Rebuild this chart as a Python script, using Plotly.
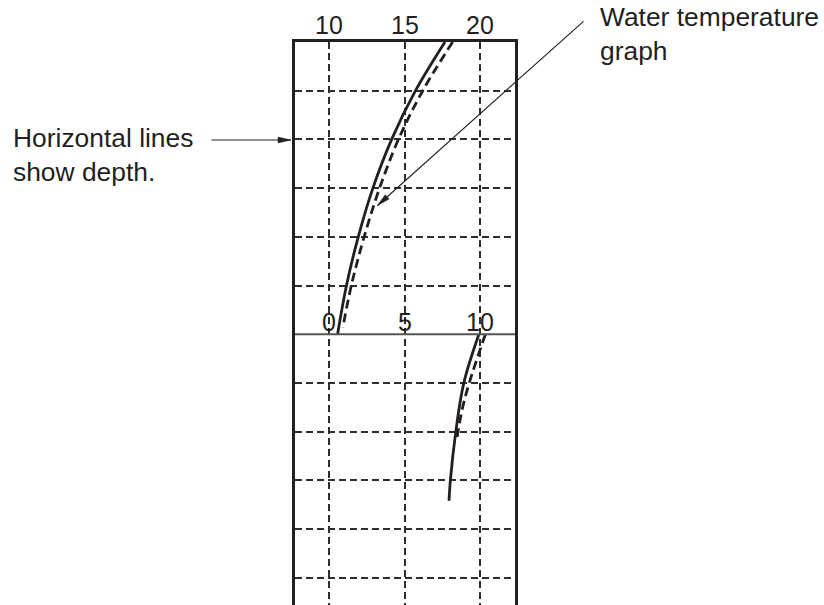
import math
import plotly.graph_objects as go

# ---- data ----
top_ticks = [10, 15, 20]            # upper graph temperature scale
mid_ticks = [0, 5, 10]              # lower graph temperature scale
depth_lines = [1, 2, 3, 4, 5, 7, 8, 9, 10, 11]
divider_depth = 6

depth_solid_top = [0, 1, 2, 3, 4, 5, 6]
temp_solid_top = [17.66, 15.71, 14.13, 12.89, 11.92, 11.14, 10.55]
depth_dash_top = [0, 1, 2, 3, 4, 5, 5.86]
temp_dash_top = [18.17, 16.19, 14.58, 13.33, 12.31, 11.46, 10.90]

depth_solid_bot = [6, 7, 8, 9, 9.42]
temp_solid_bot = [9.91, 8.91, 8.38, 8.02, 7.93]
depth_dash_bot = [6, 7, 7.56, 8.2]
temp_dash_bot = [10.34, 9.27, 8.79, 8.42]

W, H = 824, 605
FONT = "Liberation Sans, Arial, Helvetica, sans-serif"
INK = "#231f20"

x_range = [7.73, 22.30]
y_range = [11.56, 0]

fig = go.Figure()
line_solid = dict(color=INK, width=2.8, shape="spline")
line_dash = dict(color=INK, width=2.8, shape="spline", dash="9px,5px")
fig.add_trace(go.Scatter(x=temp_solid_top, y=depth_solid_top, mode="lines", line=line_solid, xaxis="x", yaxis="y"))
fig.add_trace(go.Scatter(x=temp_dash_top, y=depth_dash_top, mode="lines", line=line_dash, xaxis="x", yaxis="y"))
fig.add_trace(go.Scatter(x=temp_solid_bot, y=depth_solid_bot, mode="lines", line=line_solid, xaxis="x2", yaxis="y"))
fig.add_trace(go.Scatter(x=temp_dash_bot, y=depth_dash_bot, mode="lines", line=line_dash, xaxis="x2", yaxis="y"))

dom_x = [295 / W, 515 / W]
dom_y = [0, 1 - 42 / H]

fig.update_layout(
    width=W, height=H, margin=dict(l=0, r=0, t=0, b=0),
    paper_bgcolor="white", plot_bgcolor="white", showlegend=False,
    xaxis=dict(domain=dom_x, range=x_range, tickvals=top_ticks, showticklabels=False,
               showgrid=True, gridcolor="#2e2e2e", gridwidth=1.5, griddash="7px,4px",
               zeroline=False, showline=True, side="top", linecolor=INK, linewidth=3,
               ticks="", fixedrange=True),
    xaxis2=dict(domain=dom_x, range=[x_range[0] - 10, x_range[1] - 10], overlaying="x",
                showticklabels=False, showgrid=False, zeroline=False, showline=False, visible=False),
    yaxis=dict(domain=dom_y, range=y_range, tickvals=depth_lines, showticklabels=False,
               showgrid=True, gridcolor="#2e2e2e", gridwidth=1.5, griddash="7px,4px",
               zeroline=False, showline=True, mirror=True, linecolor=INK, linewidth=3,
               ticks="", fixedrange=True),
)

# divider between the two graphs
fig.add_shape(type="line", xref="paper", x0=dom_x[0], x1=dom_x[1], yref="y",
              y0=divider_depth, y1=divider_depth, line=dict(color="#555555", width=2))

annotations = []
for t in top_ticks:
    annotations.append(dict(x=t, xref="x", y=1 - 25 / H, yref="paper", text=str(t), showarrow=False,
                            font=dict(family=FONT, size=25, color=INK), xanchor="center", yanchor="middle"))
for t in mid_ticks:
    annotations.append(dict(x=t, xref="x2", y=5.74, yref="y", text=str(t), showarrow=False,
                            font=dict(family=FONT, size=25, color=INK), xanchor="center", yanchor="middle"))

annotations.append(dict(x=11 / W, xref="paper", y=1 - 155 / H, yref="paper",
                        text="Horizontal lines<br>show depth.", showarrow=False, align="left",
                        font=dict(family=FONT, size=26.4, color=INK), xanchor="left", yanchor="middle"))
annotations.append(dict(x=598 / W, xref="paper", y=1 - 34 / H, yref="paper",
                        text="Water temperature<br>graph", showarrow=False, align="left",
                        font=dict(family=FONT, size=26.4, color=INK), xanchor="left", yanchor="middle"))


# pointer arrows (pixel tip and tail), line via annotation, narrow filled head via path shape
def pointer(tip, tail, head_len=13, half_w=2.9):
    tx, ty = tip
    sx, sy = tail
    annotations.append(dict(x=tx / W, xref="paper", y=1 - ty / H, yref="paper", text="",
                            showarrow=True, ax=sx - tx, ay=sy - ty, arrowhead=0,
                            arrowwidth=1.1, arrowcolor=INK))
    dx, dy = tx - sx, ty - sy
    n = math.hypot(dx, dy)
    ux, uy = dx / n, dy / n
    bx, by = tx - ux * head_len, ty - uy * head_len
    px, py = -uy * half_w, ux * half_w
    pts = [(tx, ty), (bx + px, by + py), (bx - px, by - py)]
    path = "M " + " L ".join(f"{x / W:.5f},{1 - y / H:.5f}" for x, y in pts) + " Z"
    fig.add_shape(type="path", xref="paper", yref="paper", path=path,
                  fillcolor=INK, line=dict(color=INK, width=0.5))


pointer((291, 140), (210, 140))
pointer((377.5, 205.5), (585, 20))

fig.update_layout(annotations=annotations)

fig.write_html("out.html")
